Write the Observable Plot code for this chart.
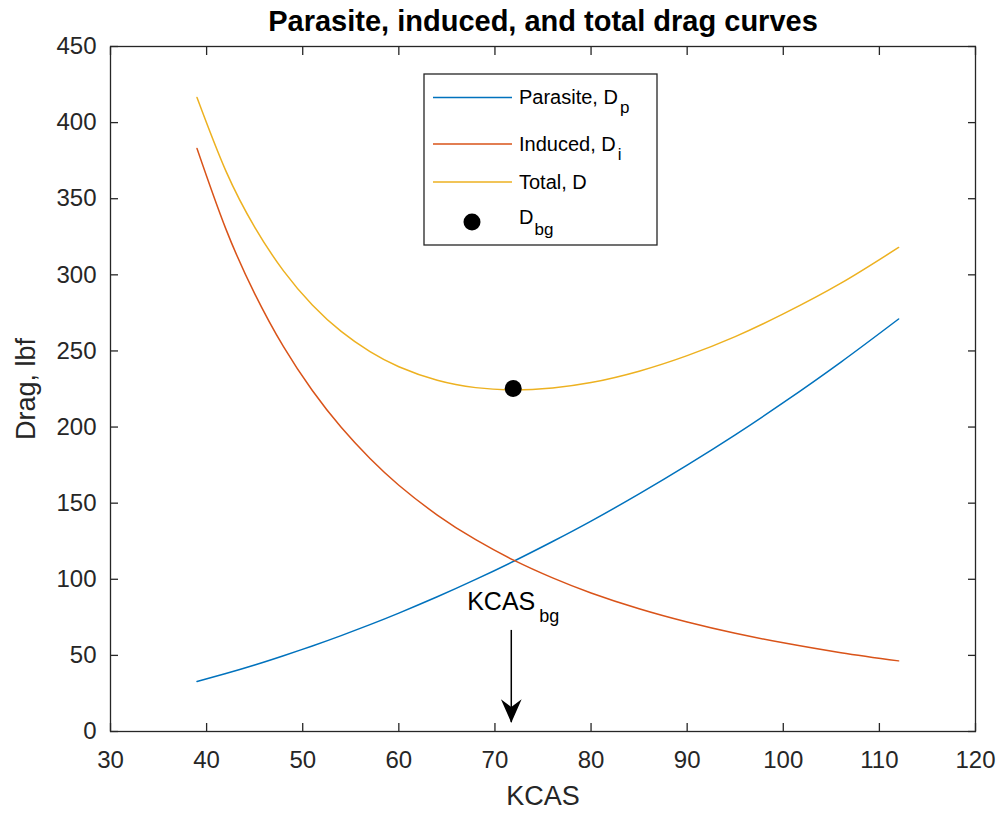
<!DOCTYPE html>
<html><head><meta charset="utf-8">
<script src="https://cdn.jsdelivr.net/npm/d3@7"></script>
<script src="https://cdn.jsdelivr.net/npm/@observablehq/plot@0.6"></script>
<style>
body{margin:0;background:#fff;font-family:"Liberation Sans",Arial,Helvetica,sans-serif;}
#wrap{position:relative;width:1002px;height:817px;}
#legend{position:absolute;left:0;top:0;pointer-events:none;}
</style></head><body><div id="wrap"></div>
<script>
// ---- data ----
const kcas     = [39, 42, 45, 48, 51, 54, 57, 60, 64, 68, 72, 76, 80, 85, 90, 95, 100, 106, 112];
const parasite = [32.9, 38.1, 43.7, 49.8, 56.2, 63.0, 70.2, 77.8, 88.5, 99.9, 112.0, 124.8, 138.2, 156.1, 175.0, 194.9, 216.0, 242.7, 271.0];
const induced  = [383.0, 330.2, 287.7, 252.8, 224.0, 199.8, 179.3, 161.8, 142.2, 126.0, 112.4, 100.9, 91.0, 80.6, 71.9, 64.5, 58.3, 51.8, 46.4];
const total    = [416.5, 368.3, 331.4, 302.6, 280.2, 262.8, 249.5, 239.6, 230.7, 225.9, 224.4, 225.7, 229.2, 236.7, 246.9, 259.4, 274.3, 294.5, 318.0];
const bestGlide = [{kcas: 71.9, drag: 225.3}];
const kcasBg    = [{kcas: 71.7, from: 66.4, to: 5.8, label: 84.8}];
const xTicks = [30, 40, 50, 60, 70, 80, 90, 100, 110, 120];
const yTicks = [0, 50, 100, 150, 200, 250, 300, 350, 400, 450];
const seriesNames  = ["Parasite, D", "Induced, D", "Total, D"];
const seriesSubs   = ["p", "i", ""];
const seriesKeys   = ["parasite", "induced", "total"];
const seriesColors = ["#0072BD", "#D95319", "#EDB120"];

const rows = kcas.map((k, i) => ({kcas: k, parasite: parasite[i], induced: induced[i], total: total[i]}));

const font = '"Liberation Sans", Arial, Helvetica, sans-serif';
const ink = "#262626";

// arrowhead symbol (tip at origin, pointing down)
const arrowHead = {
  draw(ctx, size) {
    const r = Math.sqrt(size / Math.PI);
    const w = 1.15 * r, h = 2.6 * r, n = 1.75 * r;
    ctx.moveTo(0, 0);
    ctx.lineTo(-w, -h);
    ctx.lineTo(0, -n);
    ctx.lineTo(w, -h);
    ctx.closePath();
  }
};

const chart = Plot.plot({
  width: 1002, height: 817,
  marginLeft: 110, marginRight: 27, marginTop: 46, marginBottom: 86,
  x: {domain: [30, 120], ticks: xTicks, label: null},
  y: {domain: [0, 450], ticks: yTicks, label: null},
  style: {fontFamily: font, fontSize: "24px", color: ink, background: "#fff", overflow: "visible"},
  marks: [
    ...seriesKeys.map((k, i) => Plot.line(rows, {x: "kcas", y: k, stroke: seriesColors[i], strokeWidth: 1.5, curve: "natural"})),
    Plot.dot(bestGlide, {x: "kcas", y: "drag", r: 8.5, fill: "black"}),
    Plot.ruleX(kcasBg, {x: "kcas", y1: "from", y2: "to", stroke: "black", strokeWidth: 1.5}),
    Plot.dot(kcasBg, {x: "kcas", y: "to", r: 9, fill: "black", symbol: arrowHead}),
    Plot.text(kcasBg, {x: "kcas", y: "label", text: () => "KCAS", textAnchor: "end", dx: 24, fontSize: 25, fill: "black"}),
    Plot.text(kcasBg, {x: "kcas", y: "label", text: () => "bg", textAnchor: "start", dx: 28, dy: 14, fontSize: 18, fill: "black"}),
    Plot.frame({stroke: ink, strokeWidth: 1.3}),
    Plot.axisX(xTicks, {anchor: "bottom", tickSize: -8, tickPadding: 27, label: null, stroke: ink, strokeWidth: 1.3, fill: ink}),
    Plot.axisX(xTicks, {anchor: "top", tickSize: -8, tickFormat: () => "", label: null, stroke: ink, strokeWidth: 1.3}),
    Plot.axisY(yTicks, {anchor: "left", tickSize: -8, tickPadding: 22, label: null, stroke: ink, strokeWidth: 1.3, fill: ink}),
    Plot.axisY(yTicks, {anchor: "right", tickSize: -8, tickFormat: () => "", label: null, stroke: ink, strokeWidth: 1.3}),
    Plot.text(["Parasite, induced, and total drag curves"], {frameAnchor: "top", lineAnchor: "middle", textAnchor: "middle", dy: -25, fontWeight: "bold", fontSize: 29, fill: "black"}),
    Plot.text(["KCAS"], {frameAnchor: "bottom", lineAnchor: "middle", textAnchor: "middle", dy: 65, fontSize: 27, fill: ink}),
    Plot.text(["Drag, lbf"], {frameAnchor: "left", lineAnchor: "middle", textAnchor: "middle", dx: -84, rotate: -90, fontSize: 27, fill: ink})
  ]
});
document.getElementById("wrap").appendChild(chart);

// legend overlay
const leg = d3.select("#wrap").append("svg").attr("id", "legend").attr("width", 1002).attr("height", 817)
  .style("font-family", font);
leg.append("rect").attr("x", 424).attr("y", 74).attr("width", 233).attr("height", 171)
  .attr("fill", "#fff").attr("stroke", ink).attr("stroke-width", 1.3);
const rowY = [97.5, 144, 182, 222];
seriesNames.forEach((name, i) => {
  leg.append("line").attr("x1", 433).attr("x2", 512).attr("y1", rowY[i]).attr("y2", rowY[i])
    .attr("stroke", seriesColors[i]).attr("stroke-width", 1.5);
  const t = leg.append("text").attr("x", 519).attr("y", rowY[i] + 6.5).attr("font-size", 20).attr("fill", "#000").text(name);
  if (seriesSubs[i]) t.append("tspan").attr("dx", 2).attr("dy", 9).attr("font-size", 17).text(seriesSubs[i]);
});
leg.append("circle").attr("cx", 472).attr("cy", rowY[3]).attr("r", 8.5).attr("fill", "#000");
const tb = leg.append("text").attr("x", 519).attr("y", rowY[3] + 2).attr("font-size", 20).attr("fill", "#000").text("D");
tb.append("tspan").attr("dx", 1).attr("dy", 11).attr("font-size", 17).text("bg");
</script></body></html>
